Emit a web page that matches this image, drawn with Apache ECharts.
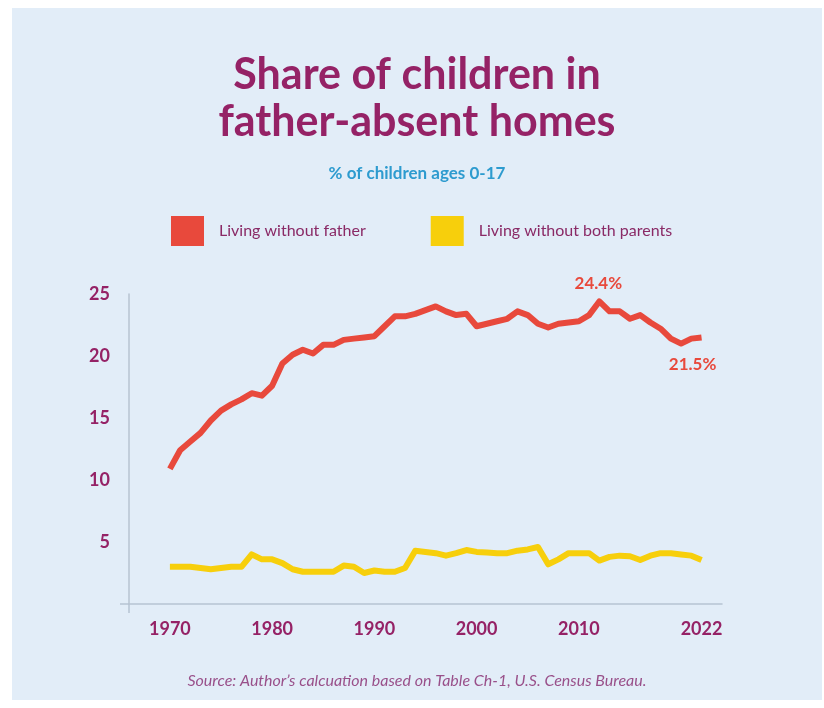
<!DOCTYPE html>
<html>
<head>
<meta charset="utf-8">
<script src="https://cdn.jsdelivr.net/npm/echarts@6/dist/echarts.min.js"></script>
<style>
  html, body { margin: 0; padding: 0; background: #ffffff; }
  #chart { position: absolute; left: 12px; top: 8px; width: 810px; height: 692px; background: #e2edf8; }
</style>
</head>
<body>
<div id="chart"></div>
<script>
// Survey years, one per year
const years = [];
for (let y = 1970; y <= 2022; y++) years.push(y);

// % of children living without their father
const withoutFather = [
  10.9, 12.4, 13.1, 13.8, 14.8, 15.6, 16.1, 16.5, 17.0, 16.8,
  17.6, 19.4, 20.1, 20.5, 20.2, 20.9, 20.9, 21.3, 21.4, 21.5,
  21.6, 22.4, 23.2, 23.2, 23.4, 23.7, 24.0, 23.6, 23.3, 23.4,
  22.4, 22.6, 22.8, 23.0, 23.6, 23.3, 22.6, 22.3, 22.6, 22.7,
  22.8, 23.3, 24.4, 23.6, 23.6, 23.0, 23.3, 22.7, 22.2, 21.4,
  21.0, 21.4, 21.5
];

// % of children living without both parents
const withoutBoth = [
  3.0, 3.0, 3.0, 2.9, 2.8, 2.9, 3.0, 3.0, 4.0, 3.6,
  3.6, 3.3, 2.8, 2.6, 2.6, 2.6, 2.6, 3.1, 3.0, 2.5,
  2.7, 2.6, 2.6, 2.9, 4.3, 4.2, 4.1, 3.9, 4.1, 4.35,
  4.2, 4.15, 4.1, 4.1, 4.3, 4.4, 4.6, 3.2, 3.6, 4.1,
  4.1, 4.1, 3.5, 3.8, 3.9, 3.85, 3.55, 3.9, 4.1, 4.1,
  4.0, 3.9, 3.55
];

const seriesNames = ['Living without father', 'Living without both parents'];
const xTickYears = [1970, 1980, 1990, 2000, 2010, 2022];
const labelledYears = [2012, 2022];

const RED = '#e8493c';
const YELLOW = '#f7cf0c';
const PLUM = '#952266';
const FONT = 'Lato, "Noto Sans", sans-serif';

const fatherData = years.map((yr, i) => [yr, withoutFather[i]]);
const bothData = years.map((yr, i) => [yr, withoutBoth[i]]);

// Value callouts for the peak year and the latest year
const lastYear = years[years.length - 1];
const callouts = labelledYears.map(yr => {
  const v = withoutFather[years.indexOf(yr)];
  const isLast = yr === lastYear;
  return {
    coord: [yr, v],
    value: v,
    label: {
      position: isLast ? 'bottom' : 'top',
      distance: isLast ? 18 : 9,
      offset: isLast ? [-9, 0] : [-1, 0]
    }
  };
});

const chart = echarts.init(document.getElementById('chart'), null, { renderer: 'canvas' });
chart.setOption({
  backgroundColor: '#e2edf8',
  animation: false,
  title: [
    {
      text: 'Share of children in\nfather-absent homes',
      left: 'center',
      top: 39,
      textStyle: { color: PLUM, fontFamily: FONT, fontWeight: 'bold', fontSize: 43, lineHeight: 47 }
    },
    {
      text: '% of children ages 0-17',
      left: 'center',
      top: 152,
      textStyle: { color: '#2d9bcf', fontFamily: FONT, fontWeight: 'bold', fontSize: 17 }
    },
    {
      text: 'Source: Author\u2019s calcuation based on Table Ch-1, U.S. Census Bureau.',
      left: 'center',
      top: 660,
      textStyle: { color: '#99508a', fontFamily: FONT, fontStyle: 'italic', fontWeight: 'normal', fontSize: 16 }
    }
  ],
  legend: {
    data: seriesNames,
    left: 154,
    top: 203,
    icon: 'rect',
    itemWidth: 33,
    itemHeight: 30,
    itemGap: 65,
    textStyle: { color: '#8a2a66', fontFamily: FONT, fontSize: 16, padding: [0, 0, 0, 10] }
  },
  grid: { left: 117, top: 286, width: 593, height: 310, containLabel: false },
  xAxis: {
    type: 'value',
    min: 1966,
    max: 2024,
    axisLine: { show: true, lineStyle: { color: '#b7c3d2', width: 1.5 } },
    axisTick: { show: true, customValues: [1966], length: 9, lineStyle: { color: '#b7c3d2', width: 1.5 } },
    splitLine: { show: false },
    axisLabel: {
      customValues: xTickYears,
      formatter: v => String(v),
      margin: 16,
      color: PLUM,
      fontFamily: FONT,
      fontWeight: 'bold',
      fontSize: 18
    }
  },
  yAxis: {
    type: 'value',
    min: 0,
    max: 25,
    interval: 5,
    axisLine: { show: true, lineStyle: { color: '#b7c3d2', width: 1.5 } },
    axisTick: { show: true, customValues: [0], length: 9, lineStyle: { color: '#b7c3d2', width: 1.5 } },
    splitLine: { show: false },
    axisLabel: {
      formatter: v => (v === 0 ? '' : String(v)),
      margin: 19,
      color: PLUM,
      fontFamily: FONT,
      fontWeight: 'bold',
      fontSize: 18
    }
  },
  series: [
    {
      name: seriesNames[0],
      type: 'line',
      data: fatherData,
      showSymbol: false,
      symbol: 'none',
      color: RED,
      lineStyle: { color: RED, width: 6, join: 'round' },
      z: 3,
      markPoint: {
        symbol: 'circle',
        symbolSize: 1,
        itemStyle: { color: 'rgba(0,0,0,0)' },
        label: {
          show: true,
          formatter: p => p.value.toFixed(1) + '%',
          color: RED,
          fontFamily: FONT,
          fontWeight: 'bold',
          fontSize: 17
        },
        data: callouts
      }
    },
    {
      name: seriesNames[1],
      type: 'line',
      data: bothData,
      showSymbol: false,
      symbol: 'none',
      color: YELLOW,
      lineStyle: { color: YELLOW, width: 6, join: 'round' },
      z: 2
    }
  ]
});
</script>
</body>
</html>
